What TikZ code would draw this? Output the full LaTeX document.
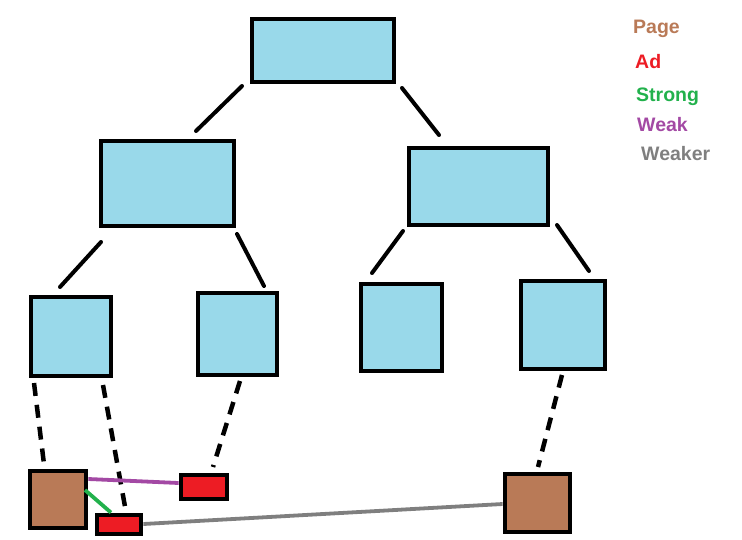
\documentclass[tikz,border=0pt]{standalone}
\usepackage{fontspec}
\setmainfont{Liberation Sans}
\definecolor{boxblue}{RGB}{153,217,234}
\definecolor{pagebrown}{RGB}{185,122,87}
\definecolor{adred}{RGB}{237,28,36}
\definecolor{strgreen}{RGB}{34,177,76}
\definecolor{weakpurple}{RGB}{163,73,164}
\definecolor{weakgray}{RGB}{127,127,127}
\begin{document}
\begin{tikzpicture}[x=1pt,y=-1pt,
  tbox/.style={draw=black,line width=4.8pt,fill=boxblue,inner sep=0pt},
  pagebox/.style={draw=black,line width=4.8pt,fill=pagebrown,inner sep=0pt},
  adbox/.style={draw=black,line width=4.8pt,fill=adred,inner sep=0pt},
  tree/.style={line width=4pt,line cap=round},
  dline/.style={line width=4.5pt,dash pattern=on 13pt off 9pt},
  rel/.style={line width=3.8pt},
  legend/.style={font=\bfseries\fontsize{19.5pt}{21pt}\selectfont,anchor=base west,inner sep=0pt}]
\useasboundingbox (0,0) rectangle (742,539);
% tree boxes
\node[tbox,minimum width=142pt,minimum height=63pt] (top) at (323,50.5) {};
\node[tbox,minimum width=133pt,minimum height=85pt] (ml) at (167.5,183.5) {};
\node[tbox,minimum width=139pt,minimum height=77pt] (mr) at (478.5,186.5) {};
\node[tbox,minimum width=80pt,minimum height=79pt] (b1) at (71,336.5) {};
\node[tbox,minimum width=79pt,minimum height=82pt] (b2) at (237.5,334) {};
\node[tbox,minimum width=81pt,minimum height=87pt] (b3) at (401.5,327.5) {};
\node[tbox,minimum width=84pt,minimum height=88pt] (b4) at (563,325) {};
% pages and ads
\node[pagebox,minimum width=56pt,minimum height=57pt] (p1) at (58,499.5) {};
\node[pagebox,minimum width=65pt,minimum height=58pt] (p2) at (537.5,503) {};
\node[adbox,minimum width=46pt,minimum height=24pt] (a1) at (204,487) {};
\node[adbox,minimum width=44pt,minimum height=19pt] (a2) at (119,524.5) {};
% tree connectors (free-standing strokes with gaps)
\coordinate (t1s) at (242,86); \coordinate (t1e) at (196,131);
\coordinate (t2s) at (402,88); \coordinate (t2e) at (439,135);
\coordinate (t3s) at (101,242); \coordinate (t3e) at (60,287);
\coordinate (t4s) at (237,234); \coordinate (t4e) at (264,286);
\coordinate (t5s) at (403,231); \coordinate (t5e) at (372,273);
\coordinate (t6s) at (557,225); \coordinate (t6e) at (589,271);
\draw[tree] (t1s) -- (t1e);
\draw[tree] (t2s) -- (t2e);
\draw[tree] (t3s) -- (t3e);
\draw[tree] (t4s) -- (t4e);
\draw[tree] (t5s) -- (t5e);
\draw[tree] (t6s) -- (t6e);
% dashed links
\coordinate (d1s) at (34,383); \coordinate (d1e) at (44,464);
\coordinate (d2s) at (103,385); \coordinate (d2e) at (126,512);
\coordinate (d3s) at (240,381); \coordinate (d3e) at (213,467);
\coordinate (d4s) at (562,375); \coordinate (d4e) at (538,467);
\draw[dline] (d1s) -- (d1e);
\draw[dline] (d2s) -- (d2e);
\draw[dline] (d3s) -- (d3e);
\draw[dline] (d4s) -- (d4e);
% relations
\draw[rel,weakpurple] (p1.east |- 0,479) -- (a1.west |- 0,483);
\draw[rel,strgreen] (85,490) -- (a2.north -| 111,0);
\draw[rel,weakgray] (a2.east |- 0,524) -- (p2.west |- 0,504);
% legend
\node[legend,text=pagebrown] (lp) at (633,33) {Page};
\node[legend,text=adred] (la) at (635,68) {Ad};
\node[legend,text=strgreen] (ls) at (636,101.5) {Strong};
\node[legend,text=weakpurple] (lw) at (637,131) {Weak};
\node[legend,text=weakgray] (lk) at (641,160) {Weaker};
\end{tikzpicture}
\end{document}
